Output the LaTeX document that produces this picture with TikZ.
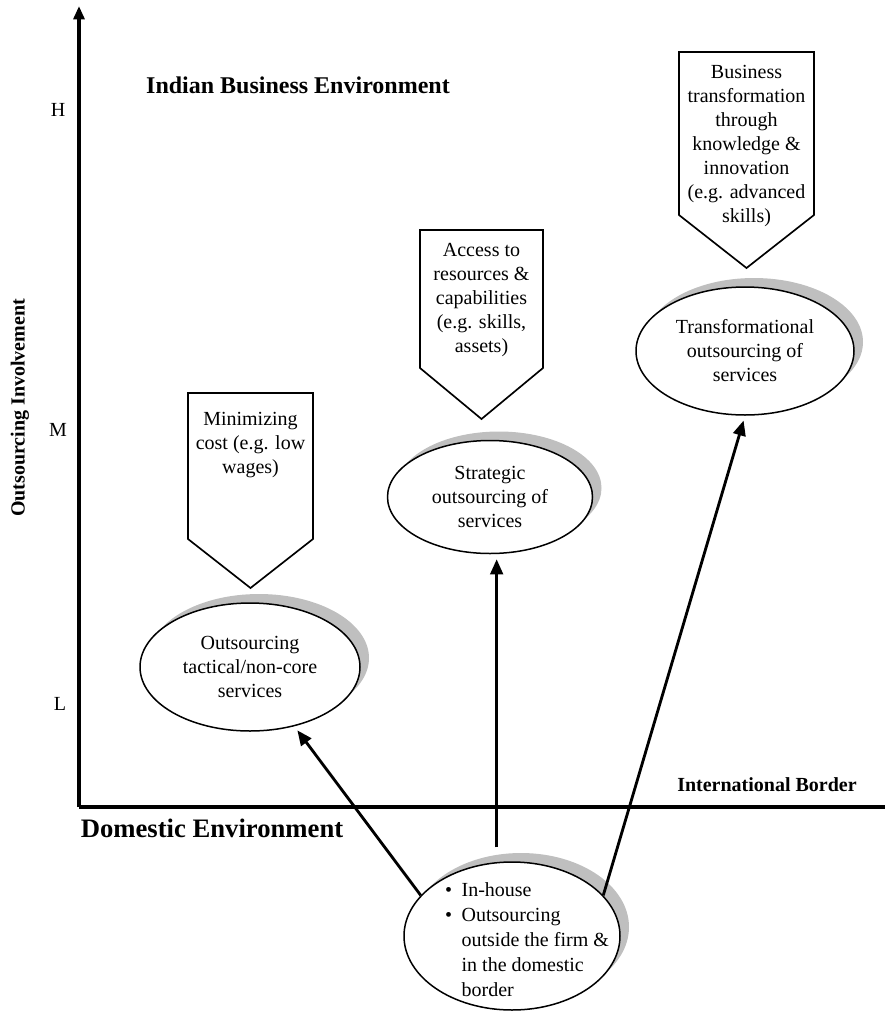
\documentclass[tikz,border=0pt]{standalone}
\usepackage{fontspec}
\setmainfont{Liberation Serif}
\usetikzlibrary{arrows.meta,shadows,shapes.geometric}

\newcommand{\homeitem}{\makebox[9.9pt][l]{\textbullet}}

\tikzset{
  bubble/.style={ellipse,draw,line width=0.9pt,fill=white,inner sep=0pt,
    drop shadow={shadow xshift=5.4pt,shadow yshift=5.4pt,fill=black!25,opacity=1},
    align=center,font=\fontsize{12}{14.4}\selectfont},
  flow/.style={line width=1.7pt,-{Triangle[length=9pt,width=7.5pt]},shorten >=3pt},
  pointer/.style={draw,line width=1pt,fill=white},
  boxtext/.style={align=center,font=\fontsize{12}{14.4}\selectfont},
  tick/.style={font=\fontsize{12}{14.4}\selectfont},
  heading/.style={font=\bfseries\fontsize{14.4}{17}\selectfont}
}

\begin{document}
\begin{tikzpicture}[x=0.6pt,y=-0.6pt]
\useasboundingbox (0,0) rectangle (885,1012);
% axes
\coordinate (origin) at (79,807);
\draw[line width=2.4pt,-{Triangle[length=8pt,width=6.5pt]}] (origin) -- (79,6);
\draw[line width=2.4pt] (origin) -- (885,807);
\node[tick] (high) at (58,110) {H};
\node[tick] (mid) at (58,430) {M};
\node[tick] (low) at (60,704) {L};
\node[rotate=90,font=\bfseries\fontsize{12}{14.4}\selectfont] (involve) at (20,408) {Outsourcing Involvement};
\node[heading] (indian) at (298,85) {Indian Business Environment};
\node[font=\bfseries\fontsize{16}{19}\selectfont] (domestic) at (212,828) {Domestic Environment};
\node[font=\bfseries\fontsize{12}{14.4}\selectfont] (border) at (767,785) {International Border};

% drivers
\draw[pointer] (188,393) -- (313,393) -- (313,539) -- (250.5,588) -- (188,539) -- cycle;
\node[boxtext] (cost) at (250.5,445) {Minimizing\\cost (e.g. low\\wages)};
\draw[pointer] (420,230) -- (543,230) -- (543,368) -- (481.5,419) -- (420,368) -- cycle;
\node[boxtext] (access) at (481.5,300) {Access to\\resources \&\\capabilities\\(e.g. skills,\\assets)};
\draw[pointer] (679,52) -- (814,52) -- (814,215) -- (746.5,268) -- (679,215) -- cycle;
\node[boxtext] (knowledge) at (746.5,146.5) {Business\\transformation\\through\\knowledge \&\\innovation\\(e.g. advanced\\skills)};

% outsourcing stages
\node[bubble,minimum width=132pt,minimum height=76.8pt] (tact) at (250,667) {Outsourcing\\tactical/non-core\\services};
\node[bubble,minimum width=123pt,minimum height=67.8pt] (strat) at (490,497) {Strategic\\outsourcing of\\services};
\node[bubble,minimum width=130.8pt,minimum height=76.8pt] (trans) at (745,351) {Transformational\\outsourcing of\\services};
\node[bubble,minimum width=129.6pt,minimum height=88.8pt] (home) at (512,936) {};
\node[align=left,font=\fontsize{12}{15}\selectfont] (homelist) at (527,940)
  {\homeitem In-house\\\homeitem Outsourcing\\\hspace*{9.9pt}outside the firm \&\\\hspace*{9.9pt}in the domestic\\\hspace*{9.9pt}border};

\draw[flow] (home.156) -- (tact);
\draw[flow] ([xshift=4pt,yshift=8.4pt]home.north -| strat.south) -- ([xshift=4pt]strat.south);
\draw[flow] (home.24) -- (trans.south);
\end{tikzpicture}
\end{document}
